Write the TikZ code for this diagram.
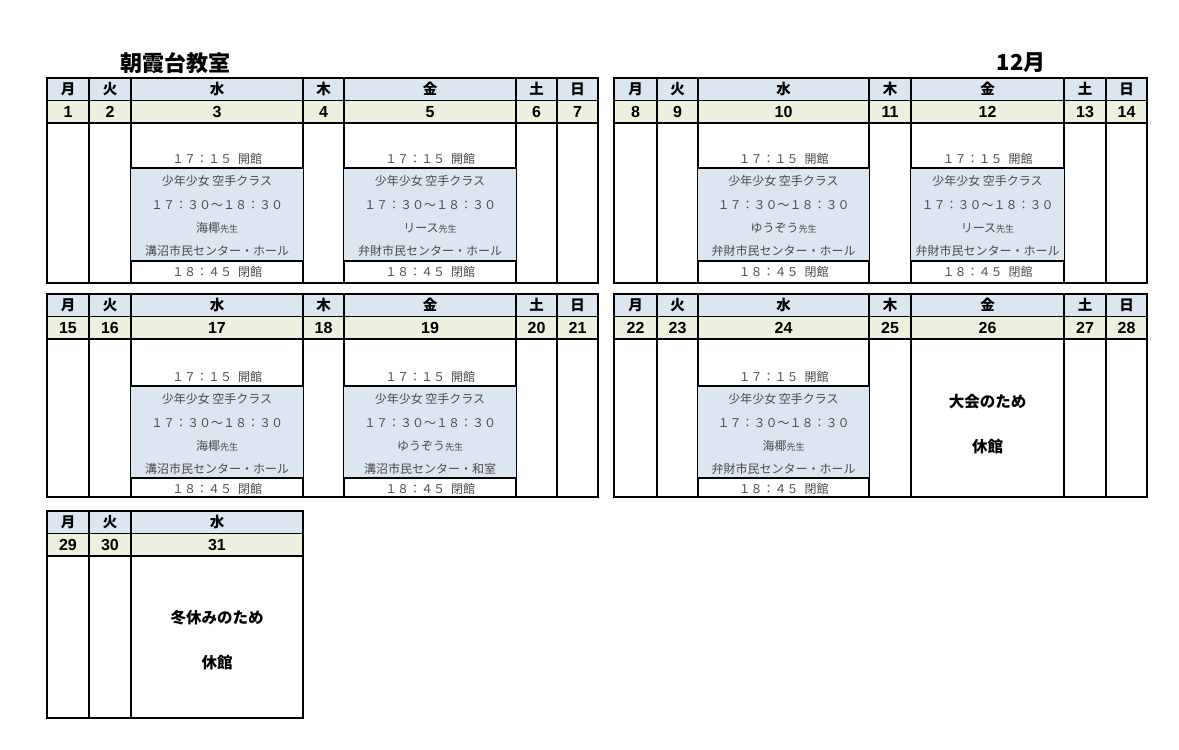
\documentclass[tikz,border=0pt]{standalone}
\usepackage{fontspec}
\setmainfont{Noto Sans CJK JP}
\newfontfamily\suuji{Liberation Sans}
\usetikzlibrary{calc}

\definecolor{youbiiro}{HTML}{DCE6F1}
\definecolor{hizukeiro}{HTML}{EBF1DE}
\definecolor{kurasuiro}{HTML}{DCE6F1}
\definecolor{mojiiro}{HTML}{4A4A4A}

\tikzset{
  waku/.style={line width=1.8pt},
  linea/.style={line width=1.4pt},
  usui/.style={line width=1pt},
  midashi/.style={font=\bfseries\fontsize{22}{22}\selectfont},
  youbi/.style={font=\bfseries\fontsize{14.5}{14.5}\selectfont},
  hizuke/.style={font=\suuji\bfseries\fontsize{16}{16}\selectfont, anchor=base},
  jikan/.style={font=\fontsize{12}{12}\selectfont, text=mojiiro},
  kyuukan/.style={font=\bfseries\fontsize{15.5}{15.5}\selectfont}
}

% 週の枠: #1 上, #2 下, #3 左, #4 右, #5 列
\newcommand{\shuu}[5]{%
  \fill[youbiiro] (#3,#1) rectangle (#4,#1+22);
  \fill[hizukeiro] (#3,#1+22) rectangle (#4,#1+45);
  \draw[usui] (#3,#1+22) -- (#4,#1+22);
  \draw[linea] (#3,#1+45) -- (#4,#1+45);
  \foreach \xa/\xb/\yb/\hi in {#5} {
    \draw[linea] (\xb,#1) -- (\xb,#2);
    \node[youbi] (y\hi) at ({(\xa+\xb)/2},#1+11) {\yb};
    \node[hizuke] (h\hi) at ({(\xa+\xb)/2},#1+39.5) {\hi};
  }
  \draw[waku] (#3,#1) rectangle (#4,#2);
}

% 空手クラス: #1 左, #2 右, #3 上, #4 下, #5 先生, #6 場所, #7 名前
\newcommand{\kurasu}[7]{%
  \pgfmathsetmacro\xc{(#1+#2)/2}
  \fill[kurasuiro] (#1,#3) rectangle (#2,#4);
  \draw[linea] (#1,#3) -- (#2,#3) (#1,#4) -- (#2,#4);
  \node[jikan] (#7kai) at (\xc,#3-9) {１７：１５\hspace{0.5em}開館};
  \node[jikan] (#7kurasu) at (\xc,#3+13) {少年少女 空手クラス};
  \node[jikan] (#7jikan) at (\xc,#3+37) {１７：３０～１８：３０};
  \node[jikan] (#7sensei) at (\xc,#3+60) {#5{\fontsize{9}{9}\selectfont 先生}};
  \node[jikan] (#7basho) at (\xc,#3+83) {#6};
  \node[jikan] (#7hei) at (\xc,#4+11) {１８：４５\hspace{0.5em}閉館};
}

\begin{document}
\begin{tikzpicture}[x=1pt,y=-1pt]
  \useasboundingbox (0,0) rectangle (1179,750);

  % 見出し
  \node[midashi] (kyoushitsu) at (175,63) {朝霞台教室};
  \node[midashi] (tsuki) at (1021,63) {12月};

  % 1週目
  \shuu{78}{283}{47}{598}{47/89/月/1, 89/131/火/2, 131/303/水/3, 303/344/木/4,
    344/516/金/5, 516/557/土/6, 557/598/日/7}
  \kurasu{131}{303}{168}{261}{海椰}{溝沼市民センター・ホール}{d3}
  \kurasu{344}{516}{168}{261}{リース}{弁財市民センター・ホール}{d5}

  % 2週目
  \shuu{78}{283}{614}{1147}{614/657/月/8, 657/698/火/9, 698/869/水/10, 869/911/木/11,
    911/1064/金/12, 1064/1106/土/13, 1106/1147/日/14}
  \kurasu{698}{869}{168}{261}{ゆうぞう}{弁財市民センター・ホール}{d10}
  \kurasu{911}{1064}{168}{261}{リース}{弁財市民センター・ホール}{d12}

  % 3週目
  \shuu{294}{497}{47}{598}{47/89/月/15, 89/131/火/16, 131/303/水/17, 303/344/木/18,
    344/516/金/19, 516/557/土/20, 557/598/日/21}
  \kurasu{131}{303}{386}{478}{海椰}{溝沼市民センター・ホール}{d17}
  \kurasu{344}{516}{386}{478}{ゆうぞう}{溝沼市民センター・和室}{d19}

  % 4週目
  \shuu{294}{497}{614}{1147}{614/657/月/22, 657/698/火/23, 698/869/水/24, 869/911/木/25,
    911/1064/金/26, 1064/1106/土/27, 1106/1147/日/28}
  \kurasu{698}{869}{386}{478}{海椰}{弁財市民センター・ホール}{d24}
  \node[kyuukan] (taikai) at (987.5,402) {大会のため};
  \node[kyuukan] (kyuukan26) at (987.5,447) {休館};

  % 5週目
  \shuu{511}{718}{47}{303}{47/89/月/29, 89/131/火/30, 131/303/水/31}
  \node[kyuukan] (fuyuyasumi) at (217,618) {冬休みのため};
  \node[kyuukan] (kyuukan31) at (217,663) {休館};
\end{tikzpicture}
\end{document}
